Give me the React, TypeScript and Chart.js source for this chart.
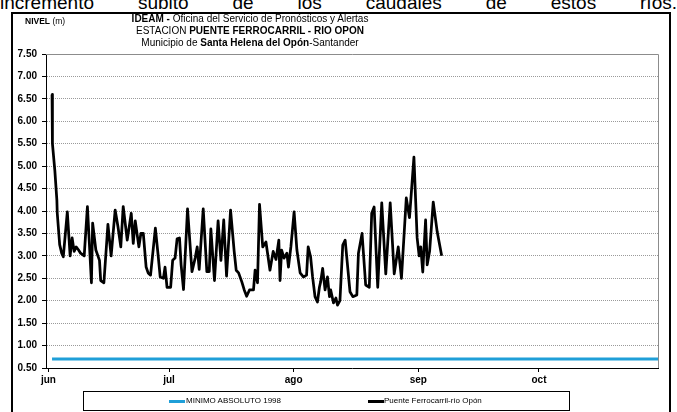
import React, { useEffect, useRef } from 'react';
import { Chart, registerables } from 'chart.js';

Chart.register(...registerables);

// ---- data ----
const monthLabels = ['jun', 'jul', 'ago', 'sep', 'oct'];
const monthTickDays = [0, 30, 61, 92, 122]; // days since 1 June

const levelDays = [
  0.9, 1.0, 1.6, 2.1, 2.2, 2.8, 3.3, 3.7, 4.7, 5.4,
  5.9, 6.4, 6.9, 7.5, 8.0, 8.9, 9.7, 10.7, 11.0, 11.8,
  12.7, 13.0, 13.8, 14.8, 15.6, 16.6, 17.3, 18.0, 18.6, 19.6,
  20.6, 21.1, 21.6, 22.5, 23.0, 23.6, 24.3, 24.8, 25.4, 26.6,
  27.3, 27.8, 28.6, 29.0, 29.5, 30.4, 30.9, 31.5, 32.0, 32.6,
  33.0, 33.6, 34.6, 35.7, 36.5, 37.0, 37.5, 38.5, 39.4, 40.0,
  40.4, 41.3, 42.2, 42.9, 43.6, 44.3, 45.3, 46.2, 46.7, 47.3,
  48.1, 48.7, 49.3, 50.0, 51.0, 51.4, 52.0, 52.5, 53.3, 54.1,
  55.1, 55.9, 56.6, 57.3, 57.6, 58.0, 58.6, 59.3, 59.7, 60.3,
  61.1, 61.8, 62.6, 63.4, 64.2, 64.6, 65.2, 65.7, 66.3, 66.9,
  67.4, 67.7, 68.2, 68.8, 69.4, 69.9, 70.2, 70.9, 71.5, 71.9,
  72.5, 73.2, 73.8, 75.0, 75.7, 76.7, 77.1, 78.0, 78.9, 79.8,
  80.4, 81.0, 81.9, 82.9, 83.9, 85.0, 86.0, 87.0, 87.8, 89.0,
  89.8, 90.9, 91.7, 92.2, 92.6, 93.1, 93.8, 94.2, 94.8, 95.7,
  96.7, 97.8,
];

const levelValues = [
  6.6, 5.5, 4.9, 4.25, 3.95, 3.25, 3.06, 2.98, 3.98, 3.0,
  3.4, 3.1, 3.2, 3.13, 3.06, 3.0, 4.1, 2.4, 3.73, 3.13,
  2.9, 2.45, 2.4, 3.7, 3.0, 4.02, 3.65, 3.2, 4.1, 3.35,
  3.95, 3.28, 3.78, 3.2, 3.5, 3.5, 2.75, 2.62, 2.57, 3.62,
  3.0, 2.53, 2.5, 2.75, 2.3, 2.3, 2.9, 2.95, 3.38, 3.4,
  2.8, 2.25, 4.05, 2.65, 2.95, 3.2, 2.7, 4.05, 2.65, 2.65,
  3.6, 2.45, 3.78, 2.9, 3.8, 2.55, 4.02, 3.1, 2.68, 2.62,
  2.42, 2.24, 2.1, 2.24, 2.24, 2.68, 2.4, 4.15, 3.2, 3.31,
  2.68, 3.1, 2.92, 3.35, 2.45, 3.13, 2.95, 3.06, 2.75, 3.2,
  3.98, 3.13, 2.62, 2.53, 2.57, 3.2, 2.98, 2.53, 2.09, 1.97,
  2.3, 2.42, 2.72, 2.24, 2.53, 2.09, 2.24, 1.95, 2.06, 1.9,
  2.0, 3.24, 3.35, 2.2, 2.09, 2.13, 3.06, 3.5, 2.35, 2.3,
  3.95, 4.09, 2.3, 4.18, 2.6, 4.18, 2.6, 3.2, 2.5, 4.29,
  3.85, 5.2, 3.4, 3.0, 3.2, 2.64, 3.8, 2.8, 3.1, 4.2,
  3.53, 3.0,
];

const minimoDays = [0.9, 151.6];
const minimoValues = [0.7, 0.7];

const yMin = 0.5;
const yMax = 7.5;
const yStep = 0.5;
const xMin = -0.6;
const xMax = 151.6;

const seriesNames = ['MINIMO ABSOLUTO 1998', 'Puente Ferrocarril-río Opón'];
const seriesColors = ['#1f9fd8', '#000000'];

const FONT = '"Liberation Sans", Arial, Helvetica, sans-serif';

export default function App() {
  const canvasRef = useRef<HTMLCanvasElement>(null);

  useEffect(() => {
    if (!canvasRef.current) return;
    const plotFrame = {
      id: 'plotFrame',
      beforeDatasetsDraw(chart: any) {
        const { ctx, chartArea } = chart;
        ctx.save();
        ctx.strokeStyle = '#8c8c8c';
        ctx.lineWidth = 1;
        ctx.beginPath();
        ctx.moveTo(chartArea.left, Math.round(chartArea.top) + 0.5);
        ctx.lineTo(Math.round(chartArea.right) + 0.5, Math.round(chartArea.top) + 0.5);
        ctx.lineTo(Math.round(chartArea.right) + 0.5, chartArea.bottom);
        ctx.stroke();
        ctx.restore();
      },
    };

    const chart = new Chart(canvasRef.current, {
      type: 'line',
      data: {
        datasets: [
          {
            label: seriesNames[0],
            data: minimoDays.map((d, i) => ({ x: d, y: minimoValues[i] })),
            borderColor: seriesColors[0],
            backgroundColor: seriesColors[0],
            borderWidth: 3,
            pointRadius: 0,
            tension: 0,
          },
          {
            label: seriesNames[1],
            data: levelDays.map((d, i) => ({ x: d, y: levelValues[i] })),
            borderColor: seriesColors[1],
            backgroundColor: seriesColors[1],
            borderWidth: 2.75,
            pointRadius: 0,
            tension: 0,
            borderJoinStyle: 'round',
          },
        ],
      },
      options: {
        responsive: false,
        animation: false,
        devicePixelRatio: 1,
        layout: { padding: { left: 0, right: 19, top: 54, bottom: 24 } },
        plugins: { legend: { display: false }, tooltip: { enabled: false }, title: { display: false } },
        scales: {
          x: {
            type: 'linear',
            min: xMin,
            max: xMax,
            afterBuildTicks: (s: any) => {
              s.ticks = monthTickDays.map((v) => ({ value: v }));
            },
            afterFit: (s: any) => {
              s.height = 20;
            },
            ticks: {
              autoSkip: false,
              maxRotation: 0,
              padding: 2,
              color: '#000',
              font: { family: FONT, size: 10, weight: 'bold' },
              callback: (v: any) => {
                const i = monthTickDays.indexOf(Number(v));
                return i >= 0 ? monthLabels[i] : '';
              },
            },
            grid: { drawOnChartArea: false, drawTicks: true, tickLength: 4, tickColor: '#000' },
            border: { color: '#000', width: 1 },
          },
          y: {
            type: 'linear',
            min: yMin,
            max: yMax,
            afterFit: (s: any) => {
              s.width = 46;
            },
            ticks: {
              stepSize: yStep,
              autoSkip: false,
              padding: 5,
              color: '#000',
              font: { family: FONT, size: 10, weight: 'bold' },
              callback: (v: any) => Number(v).toFixed(2),
            },
            grid: { color: '#9a9a9a', lineWidth: 1, tickLength: 4, tickColor: '#000', tickBorderDash: [] },
            border: { color: '#000', width: 1, dash: [1, 1] },
          },
        },
      },
      plugins: [plotFrame],
    } as any);

    return () => chart.destroy();
  }, []);

  return (
    <div
      style={{
        position: 'fixed',
        left: 0,
        top: 0,
        width: 677,
        height: 412,
        overflow: 'hidden',
        background: '#fff',
        fontFamily: FONT,
      }}
    >
      <div
        style={{
          position: 'absolute',
          left: 0,
          top: -7,
          width: 677,
          fontSize: 19,
          lineHeight: '19px',
          textAlign: 'justify',
          textAlignLast: 'justify' as any,
          color: '#000',
          whiteSpace: 'normal',
        }}
      >
        incremento súbito de los caudales de estos ríos.
      </div>

      <div
        style={{
          position: 'absolute',
          left: 11,
          top: 12,
          width: 660,
          height: 440,
          border: '2px solid #000',
          boxSizing: 'border-box',
        }}
      />

      <canvas
        ref={canvasRef}
        width={677}
        height={412}
        style={{ position: 'absolute', left: 0, top: 0, width: 677, height: 412 }}
      />

      <div style={{ position: 'absolute', left: 25, top: 16, fontSize: 8.5, lineHeight: '10px', color: '#000', whiteSpace: 'nowrap' }}>
        <b>NIVEL</b> (m)
      </div>

      <div
        style={{
          position: 'absolute',
          left: 100,
          top: 13,
          width: 300,
          textAlign: 'center',
          fontSize: 10,
          lineHeight: '12px',
          color: '#000',
          whiteSpace: 'nowrap',
        }}
      >
        <div>
          <b>IDEAM -</b> Oficina del Servicio de Pronósticos y Alertas
        </div>
        <div>
          ESTACION <b>PUENTE FERROCARRIL - RIO OPON</b>
        </div>
        <div>
          Municipio de <b>Santa Helena del Opón</b>-Santander
        </div>
      </div>

      <div
        style={{
          position: 'absolute',
          left: 83,
          top: 391,
          width: 487,
          height: 20,
          border: '1px solid #000',
          boxSizing: 'border-box',
          fontSize: 8,
          color: '#000',
        }}
      >
        <div style={{ position: 'absolute', left: 85, top: 8, width: 16, height: 3, background: seriesColors[0] }} />
        <div style={{ position: 'absolute', left: 102, top: 4, lineHeight: '10px', whiteSpace: 'nowrap' }}>{seriesNames[0]}</div>
        <div style={{ position: 'absolute', left: 284, top: 8, width: 16, height: 3, background: seriesColors[1] }} />
        <div style={{ position: 'absolute', left: 300, top: 4, lineHeight: '10px', whiteSpace: 'nowrap' }}>{seriesNames[1]}</div>
      </div>
    </div>
  );
}
